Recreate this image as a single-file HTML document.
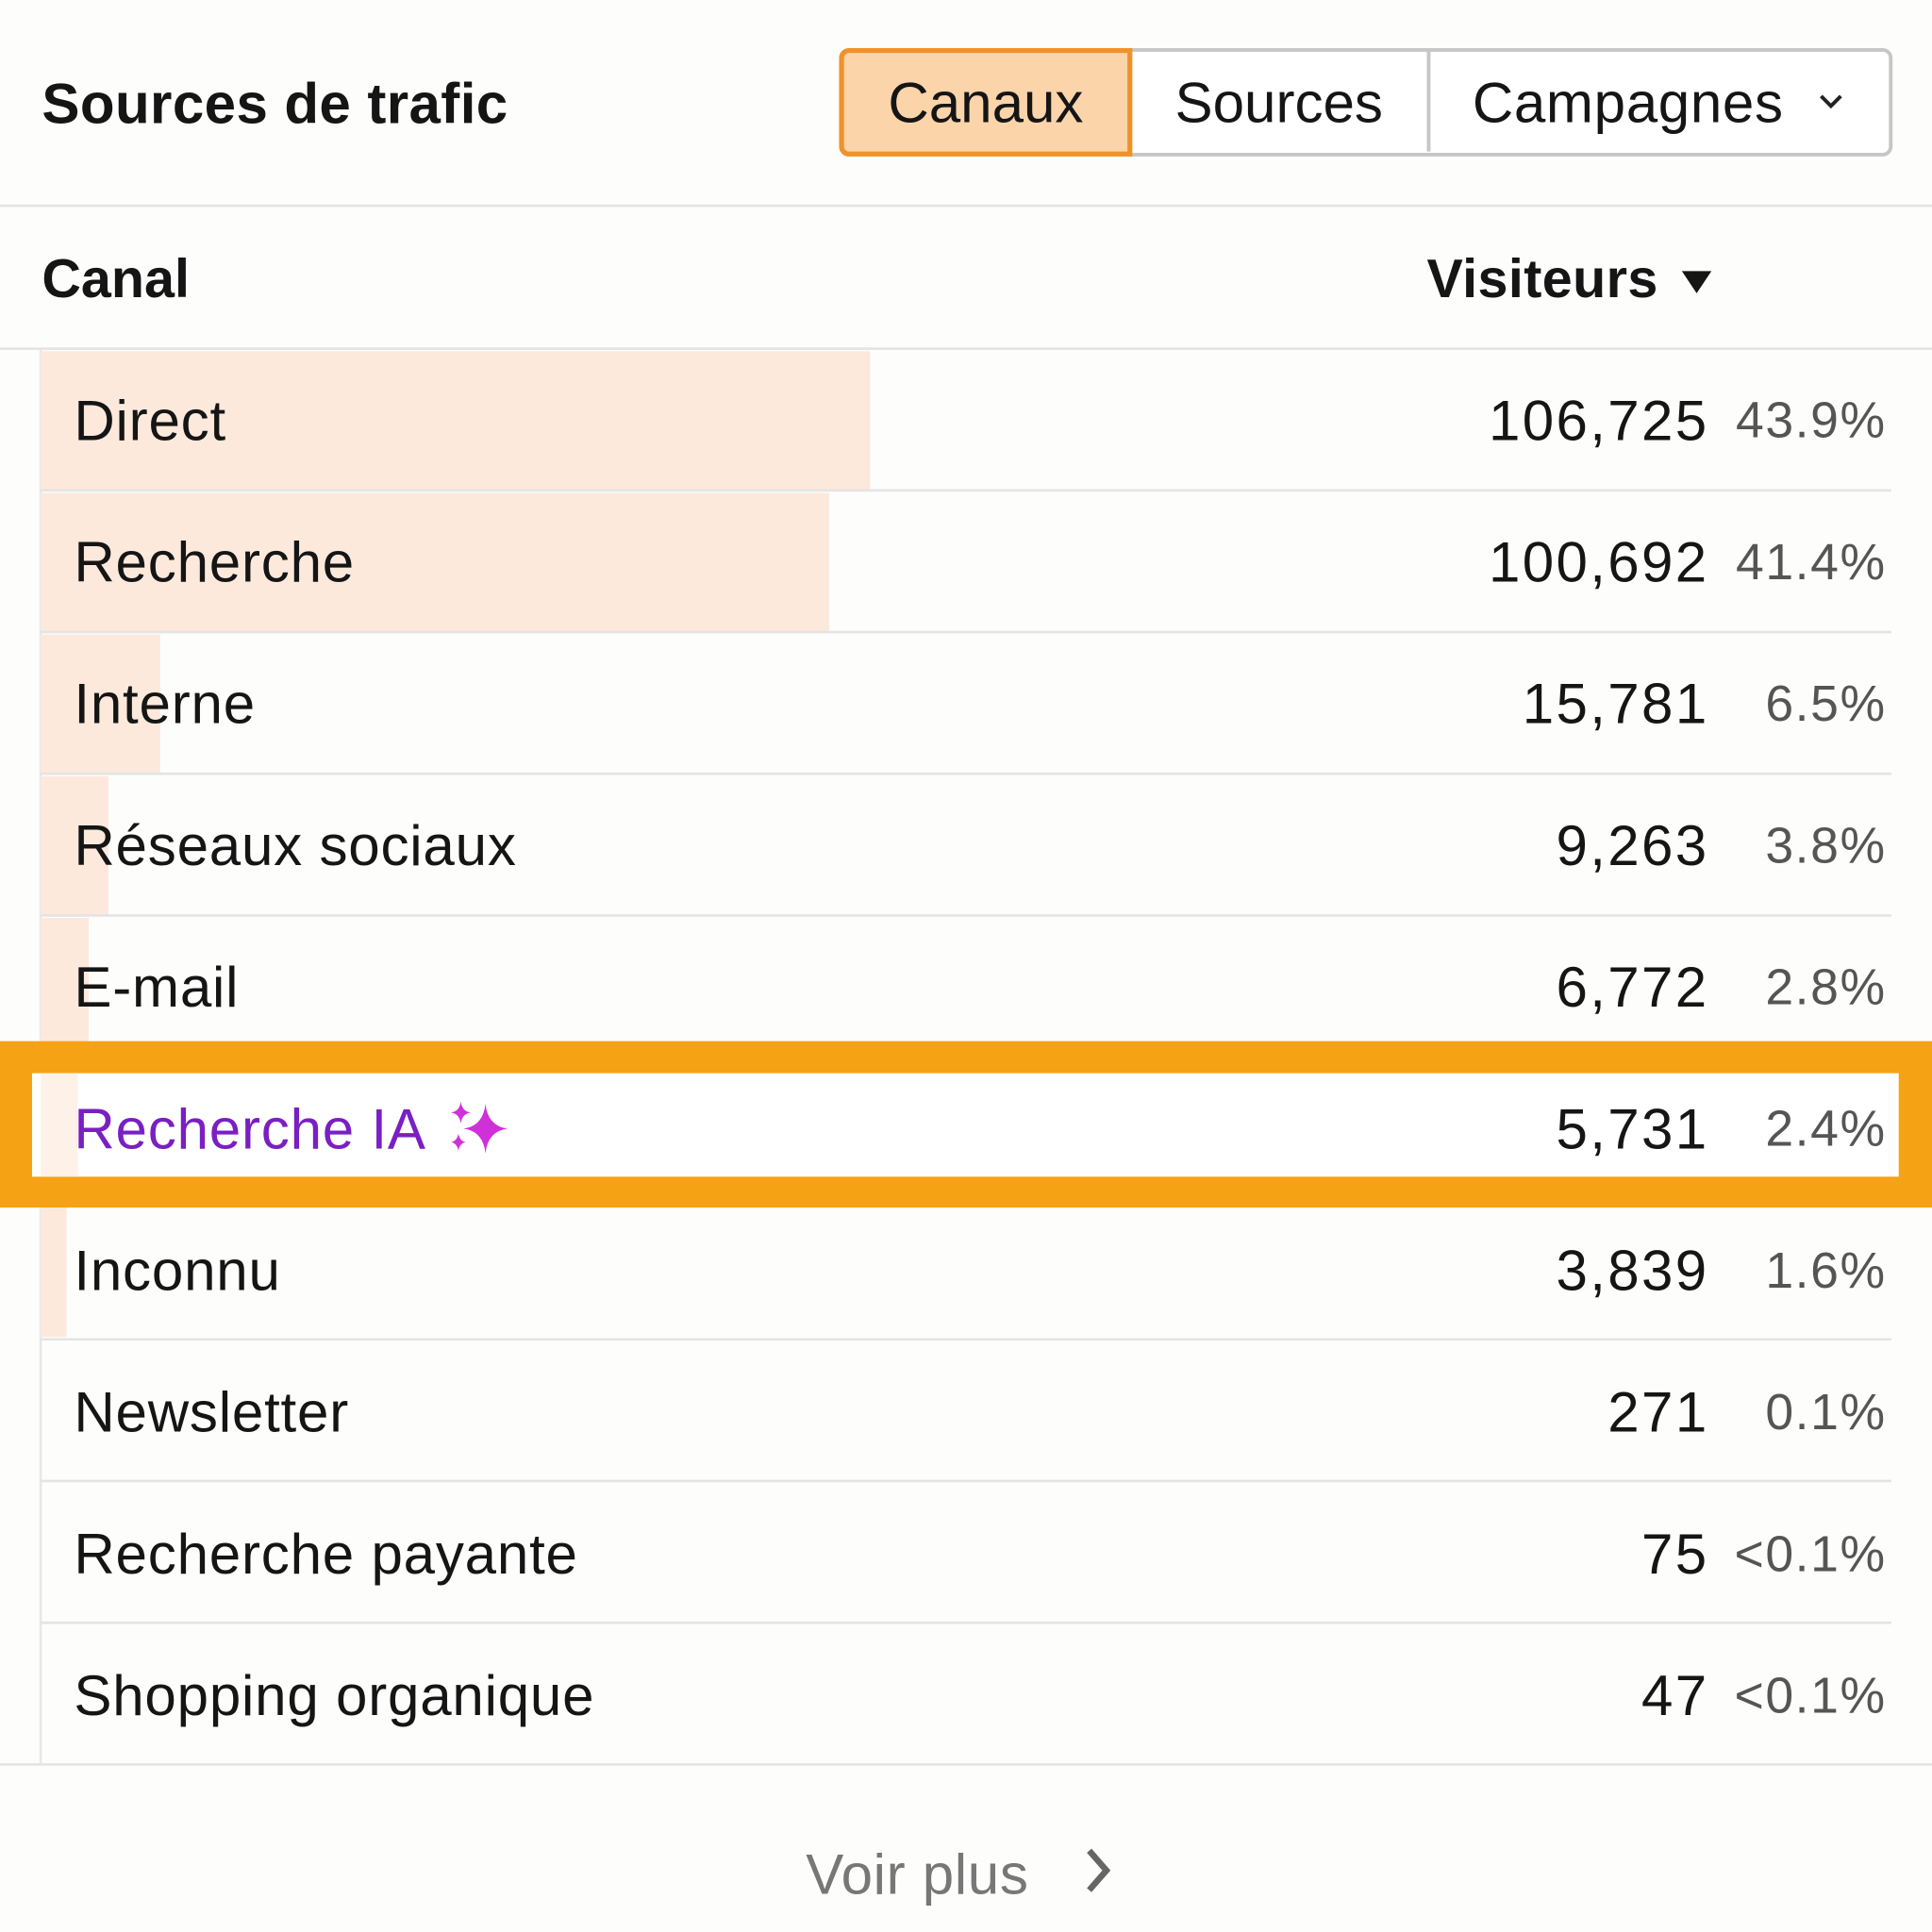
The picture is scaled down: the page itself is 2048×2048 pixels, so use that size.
<!DOCTYPE html>
<html><head><meta charset="utf-8"><style>
html,body{margin:0;padding:0;background:#fdfdfc;}
body{width:2048px;height:2048px;overflow:hidden;}
#s{position:absolute;left:0;top:0;width:1568px;height:1568px;transform:scale(1.306122);transform-origin:0 0;font-family:"Liberation Sans",sans-serif;color:#151515;}
.a{position:absolute;white-space:nowrap;}
.hl{position:absolute;height:2px;background:#e4e4e4;}
.bar{position:absolute;left:33px;height:113px;background:#fde9dc;}
.lbl{position:absolute;left:60px;font-size:46px;line-height:46px;letter-spacing:0.6px;}
.num{position:absolute;right:181px;font-size:46px;line-height:46px;text-align:right;letter-spacing:1.8px;}
.pct{position:absolute;right:37px;font-size:41px;line-height:41px;color:#555;text-align:right;letter-spacing:1.2px;}
</style></head><body><div id="s">
<div class="a" style="left:34px;top:57px;font-size:46px;font-weight:bold;letter-spacing:0.3px;">Sources de trafic</div>
<div class="a" style="left:681px;top:39px;width:849px;height:82px;border:3px solid #c6c6c6;border-radius:8px;background:#fff;"></div>
<div class="a" style="left:916px;top:41px;width:3px;height:82px;background:#c6c6c6;"></div>
<div class="a" style="left:1158px;top:41px;width:3px;height:82px;background:#c6c6c6;"></div>
<div class="a" style="left:681px;top:39px;width:230px;height:80px;border:4px solid #f0922a;border-radius:8px 0 0 8px;background:#fbd4aa;"></div>
<div class="a" style="left:683px;top:56px;width:234px;text-align:center;font-size:46px;">Canaux</div>
<div class="a" style="left:918px;top:56px;width:240px;text-align:center;font-size:46px;">Sources</div>
<div class="a" style="left:1195px;top:56px;font-size:46px;letter-spacing:0.5px;">Campagnes</div>
<svg class="a" style="left:1474px;top:74px" width="24" height="16"><path d="M4 4 L12 12 L20 4" fill="none" stroke="#222" stroke-width="3"/></svg>
<div class="hl" style="left:0;width:1568px;top:166px;"></div>
<div class="a" style="left:34px;top:202px;font-size:44px;font-weight:bold;">Canal</div>
<div class="a" style="left:1158px;top:202px;font-size:44px;font-weight:bold;letter-spacing:0.3px;">Visiteurs</div>
<svg class="a" style="left:1364px;top:218px" width="26" height="22"><path d="M1 2 L25 2 L13 20 Z" fill="#151515"/></svg>
<div class="hl" style="left:0;width:1568px;top:282px;"></div>
<div class="a" style="left:32px;top:284px;width:2px;height:1147px;background:#e8e8e8;"></div>
<div class="bar" style="top:285px;width:673px;"></div>
<div class="bar" style="top:400px;width:640px;"></div>
<div class="bar" style="top:515px;width:97px;"></div>
<div class="bar" style="top:630px;width:55px;"></div>
<div class="bar" style="top:745px;width:39px;"></div>
<div class="bar" style="top:860px;width:30px;"></div>
<div class="bar" style="top:975px;width:21px;height:110px;"></div>
<div class="hl" style="left:33px;width:1502px;top:397px;"></div>
<div class="hl" style="left:33px;width:1502px;top:512px;"></div>
<div class="hl" style="left:33px;width:1502px;top:627px;"></div>
<div class="hl" style="left:33px;width:1502px;top:742px;"></div>
<div class="hl" style="left:33px;width:1502px;top:1086px;"></div>
<div class="hl" style="left:33px;width:1502px;top:1201px;"></div>
<div class="hl" style="left:33px;width:1502px;top:1316px;"></div>
<div class="hl" style="left:0;width:1568px;top:1431px;"></div>
<div class="a" style="left:0;top:845px;width:1568px;height:135px;background:#f5a214;"></div>
<div class="a" style="left:26px;top:871px;width:1515px;height:84px;background:#fff;"></div>
<div class="a" style="left:33px;top:871px;width:30px;height:84px;background:#fdf1e8;"></div>

<div class="lbl" style="top:318px;">Direct</div><div class="num" style="top:318px;">106,725</div><div class="pct" style="top:321px;">43.9%</div>
<div class="lbl" style="top:433px;">Recherche</div><div class="num" style="top:433px;">100,692</div><div class="pct" style="top:436px;">41.4%</div>
<div class="lbl" style="top:548px;">Interne</div><div class="num" style="top:548px;">15,781</div><div class="pct" style="top:551px;">6.5%</div>
<div class="lbl" style="top:663px;">Réseaux sociaux</div><div class="num" style="top:663px;">9,263</div><div class="pct" style="top:666px;">3.8%</div>
<div class="lbl" style="top:778px;">E-mail</div><div class="num" style="top:778px;">6,772</div><div class="pct" style="top:781px;">2.8%</div>
<div class="lbl" style="top:893px;color:#7a1fc2;">Recherche IA</div><div class="num" style="top:893px;">5,731</div><div class="pct" style="top:896px;">2.4%</div>
<svg class="a" style="left:362px;top:892px" width="52" height="48"><path d="M32 4 Q34 22 50 24 Q34 26 32 44 Q30 26 14 24 Q30 22 32 4Z" fill="#d030d8"/><path d="M12 2 Q13 10 20 11 Q13 12 12 20 Q11 12 4 11 Q11 10 12 2Z" fill="#d030d8"/><path d="M10 28 Q11 34 16 35 Q11 36 10 42 Q9 36 4 35 Q9 34 10 28Z" fill="#d030d8"/></svg>
<div class="lbl" style="top:1008px;">Inconnu</div><div class="num" style="top:1008px;">3,839</div><div class="pct" style="top:1011px;">1.6%</div>
<div class="lbl" style="top:1123px;">Newsletter</div><div class="num" style="top:1123px;">271</div><div class="pct" style="top:1126px;">0.1%</div>
<div class="lbl" style="top:1238px;">Recherche payante</div><div class="num" style="top:1238px;">75</div><div class="pct" style="top:1241px;">&lt;0.1%</div>
<div class="lbl" style="top:1353px;">Shopping organique</div><div class="num" style="top:1353px;">47</div><div class="pct" style="top:1356px;">&lt;0.1%</div>
<div class="a" style="left:654px;top:1494px;font-size:46px;color:#777;letter-spacing:0.5px;">Voir plus</div>
<svg class="a" style="left:876px;top:1498px" width="30" height="40"><path d="M8 4 L22 20 L8 36" fill="none" stroke="#666" stroke-width="5"/></svg>
</div></body></html>
